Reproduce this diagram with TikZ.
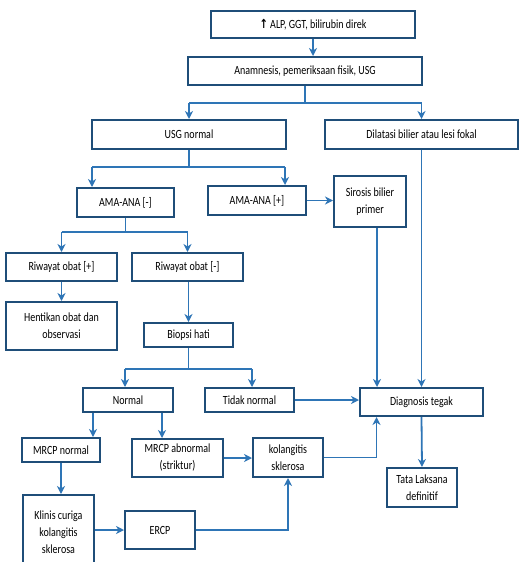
\documentclass[tikz,border=0pt]{standalone}
\usepackage{fontspec}
\setmainfont{Carlito}[FakeStretch=0.8]
\newfontfamily\symfont{DejaVu Sans}[FakeStretch=0.8]
\usetikzlibrary{arrows.meta}
\definecolor{boxblue}{HTML}{1F4E79}
\definecolor{lineblue}{HTML}{2E75B6}

\begin{document}
\begin{tikzpicture}[x=1pt,y=-1pt,
    blok/.style={draw=boxblue,line width=2pt,fill=white,align=center,
      inner sep=1pt,font=\fontsize{12.5}{17}\selectfont},
    panah/.style={draw=lineblue,line width=1.8pt,
      -{Stealth[length=8pt,width=8pt,inset=2.5pt]}},
    garis/.style={draw=lineblue,line width=1.8pt}]
  \useasboundingbox (0,0) rectangle (523,562);

  % Draw the boxes
  \node[blok,minimum width=204,minimum height=27] (awal) at (313,24.5) {{\symfont\bfseries ↑} ALP, GGT, bilirubin direk};
  \node[blok,minimum width=234,minimum height=28] (anam) at (305,71) {Anamnesis, pemeriksaan fisik, USG};
  \node[blok,minimum width=194,minimum height=29] (usg) at (189,134.5) {USG normal};
  \node[blok,minimum width=193,minimum height=29] (dil) at (421.5,134.5) {Dilatasi bilier atau lesi fokal};
  \node[blok,minimum width=97,minimum height=29] (amaneg) at (125.5,202.5) {AMA-ANA [-]};
  \node[blok,minimum width=98,minimum height=29] (amapos) at (257,200.5) {AMA-ANA [+]};
  \node[blok,minimum width=72,minimum height=51] (sirosis) at (370,201.5) {Sirosis bilier\\primer};
  \node[blok,minimum width=111,minimum height=28] (riwpos) at (61.5,267) {Riwayat obat [+]};
  \node[blok,minimum width=111,minimum height=28] (riwneg) at (187.5,267) {Riwayat obat [-]};
  \node[blok,minimum width=111,minimum height=48] (henti) at (61.5,326) {Hentikan obat dan\\observasi};
  \node[blok,minimum width=89,minimum height=24] (biopsi) at (188.5,335) {Biopsi hati};
  \node[blok,minimum width=90,minimum height=24] (normal) at (128,400) {Normal};
  \node[blok,minimum width=89,minimum height=24] (tidak) at (249.5,400) {Tidak normal};
  \node[blok,minimum width=123,minimum height=28] (diag) at (421.5,402) {Diagnosis tegak};
  \node[blok,minimum width=78,minimum height=24] (mrcpn) at (61,450) {MRCP normal};
  \node[blok,minimum width=91,minimum height=38] (mrcpa) at (177.5,458) {MRCP abnormal\\(striktur)};
  \node[blok,minimum width=70,minimum height=39] (kolang) at (288,457.5) {kolangitis\\sklerosa};
  \node[blok,minimum width=70,minimum height=39] (tata) at (422,487.5) {Tata Laksana\\definitif};
  \node[blok,minimum width=71,minimum height=74] (klinis) at (58.5,532) {Klinis curiga\\kolangitis\\sklerosa};
  \node[blok,minimum width=70,minimum height=38] (ercp) at (160,530) {ERCP};

  % Draw the connectors
  \draw[panah] (awal.south) -- (awal.south |- anam.north);
  \draw[garis] (anam.south) -- (305,103);
  \draw[garis] (usg.north |- 0,103) -- (dil.north |- 0,103);
  \draw[panah] (usg.north |- 0,103) -- (usg.north);
  \draw[panah] (dil.north |- 0,103) -- (dil.north);

  \draw[garis] (usg.south) -- (189,167);
  \draw[garis] (92,167) -- (285,167);
  \draw[panah] (92,167) -- (amaneg.north -| 92,0);
  \draw[panah] (285,167) -- (amapos.north -| 285,0);
  \draw[panah] (amapos.east) -- (sirosis.west |- amapos.east);

  \draw[garis] (amaneg.south) -- (125.5,232);
  \draw[garis] (riwpos.north |- 0,232) -- (riwneg.north |- 0,232);
  \draw[panah] (riwpos.north |- 0,232) -- (riwpos.north);
  \draw[panah] (riwneg.north |- 0,232) -- (riwneg.north);
  \draw[panah] (riwpos.south) -- (henti.north);
  \draw[panah] (riwneg.south -| biopsi.north) -- (biopsi.north);

  \draw[garis] (biopsi.south) -- (188.5,369);
  \draw[garis] (125,369) -- (252,369);
  \draw[panah] (125,369) -- (normal.north -| 125,0);
  \draw[panah] (252,369) -- (tidak.north -| 252,0);
  \draw[panah] (tidak.east) -- (diag.west |- tidak.east);
  \draw[panah] ([xshift=7]sirosis.south) -- ([xshift=7]sirosis.south |- diag.north);
  \draw[panah] (dil.south) -- (diag.north);

  \draw[panah] ([xshift=-35]normal.south) -- ([xshift=-35]normal.south |- mrcpn.north);
  \draw[panah] ([xshift=34]normal.south) -- ([xshift=34]normal.south |- mrcpa.north);
  \draw[panah] (mrcpa.east) -- (kolang.west |- mrcpa.east);
  \draw[panah] (kolang.east) -| ([xshift=-45]diag.south);
  \draw[panah] (diag.south) -- (tata.north);
  \draw[panah] (mrcpn.south) -- (mrcpn.south |- klinis.north);
  \draw[panah] (klinis.east |- ercp.west) -- (ercp.west);
  \draw[panah] (ercp.east) -| (kolang.south);
\end{tikzpicture}
\end{document}
